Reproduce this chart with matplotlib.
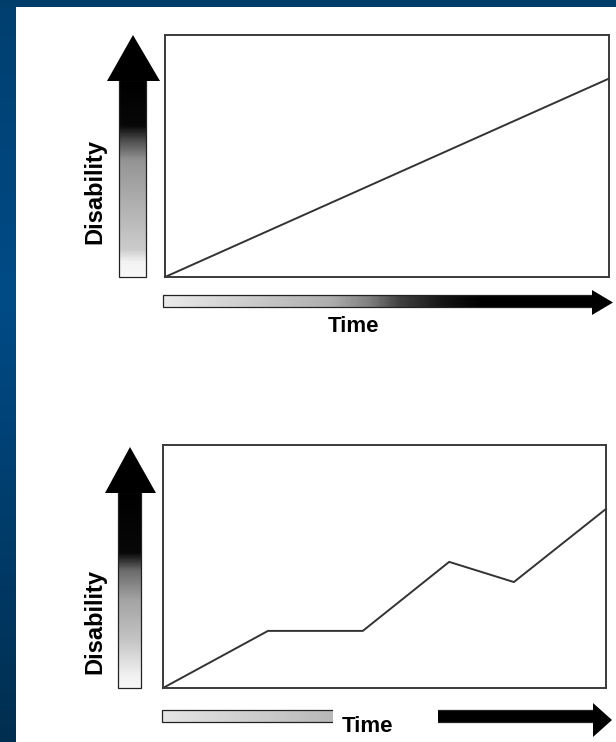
import numpy as np
import matplotlib
matplotlib.use("Agg")
import matplotlib.pyplot as plt
from matplotlib.colors import LinearSegmentedColormap
from matplotlib.patches import Polygon, Rectangle

plt.rcParams["font.family"] = ["Liberation Sans", "DejaVu Sans"]

W, H = 616, 742

# panel 1: steady linear progression
time_linear = [0.0, 1.0]
disability_linear = [0.0, 0.82]

# panel 2: stepwise / relapsing progression
time_steps = [0.0, 0.237, 0.451, 0.646, 0.792, 1.0]
disability_steps = [0.0, 0.235, 0.235, 0.519, 0.436, 0.737]

y_label = "Disability"
x_label = "Time"

fig = plt.figure(figsize=(W / 100, H / 100), dpi=100)
fig.patch.set_facecolor("white")

# overlay in pixel units for the slide decoration and the gradient arrows
deco = fig.add_axes([0, 0, 1, 1])
deco.set_xlim(0, W)
deco.set_ylim(H, 0)
deco.axis("off")

blue = LinearSegmentedColormap.from_list(
    "slide", [(0, "#003f6f"), (0.4, "#004b87"), (1, "#002e50")])
deco.imshow(np.linspace(0, 1, 256)[:, None], cmap=blue, aspect="auto",
            extent=(0, 16, H, 0), zorder=0)
deco.add_patch(Rectangle((0, 0), W, 7, color="#003d6b", lw=0, zorder=0))


def grad_cmap(stops):
    return LinearSegmentedColormap.from_list("g", [(t, str(v)) for t, v in stops])


def arrow(shaft, head, stops, vertical):
    x0, y0, x1, y1 = shaft
    g = np.linspace(0, 1, 300)
    img = g[:, None] if vertical else g[None, :]
    deco.imshow(img, cmap=grad_cmap(stops), vmin=0, vmax=1, aspect="auto",
                extent=(x0, x1, y1, y0), origin="upper" if vertical else "lower",
                zorder=2, interpolation="bilinear")
    deco.add_patch(Rectangle((x0, y0), x1 - x0, y1 - y0, fill=False,
                             ec="#222222", lw=0.9, zorder=3))
    deco.add_patch(Polygon(head, closed=True, color="black", lw=0, zorder=3))


# gradient value runs from tail (0) to head (1)
v_top = [(0, 0.97), (0.076, 0.95), (0.137, 0.8), (0.39, 0.68), (0.594, 0.58),
         (0.695, 0.3), (0.77, 0.03), (1, 0.0)]
v_bot = [(0, 0.97), (0.056, 0.95), (0.245, 0.77), (0.45, 0.64), (0.6, 0.42),
         (0.69, 0.03), (1, 0.0)]
h_top = [(0, 0.92), (0.2, 0.8), (0.39, 0.68), (0.48, 0.5), (0.55, 0.25),
         (0.65, 0.08), (0.74, 0.0), (1, 0.0)]
h_bot = [(0, 0.9), (0.4, 0.72), (0.42, 0.0), (1, 0.0)]

# vertical imshow with origin upper puts g=0 at top, so flip the stops
flip = lambda s: [(1 - t, v) for t, v in reversed(s)]

arrow((119, 80, 146, 277), [(107, 81), (160, 81), (133, 35)], flip(v_top), True)
arrow((118, 492, 141, 688), [(105, 493), (156, 493), (130, 447)], flip(v_bot), True)
arrow((163, 295, 593, 307), [(592, 290), (592, 315), (613, 302.5)], h_top, False)
arrow((162, 710, 594, 722), [(593, 703), (593, 737), (612, 720)], h_bot, False)

# white patch behind the lower "Time" label
deco.add_patch(Rectangle((333, 707), 105, 40, color="white", lw=0, zorder=4))

txt = dict(fontweight="bold", color="black", zorder=5)
deco.text(95, 191, y_label, rotation=90, ha="center", va="center", fontsize=17, **txt)
deco.text(95, 622, y_label, rotation=90, ha="center", va="center", fontsize=17, **txt)
deco.text(354, 326, x_label, ha="center", va="center", fontsize=16, **txt)
deco.text(367, 727, x_label, ha="center", va="center", fontsize=16, **txt)


def panel(box, xs, ys):
    l, t, r, b = box
    ax = fig.add_axes([l / W, 1 - b / H, (r - l) / W, (b - t) / H])
    ax.plot(xs, ys, color="#333333", lw=1.4, clip_on=False)
    ax.set_xlim(0, 1)
    ax.set_ylim(0, 1)
    ax.set_xticks([])
    ax.set_yticks([])
    for s in ax.spines.values():
        s.set_color("#3a3a3a")
        s.set_linewidth(1.4)
    return ax


panel((165, 35, 609, 277), time_linear, disability_linear)
panel((163, 445, 606, 688), time_steps, disability_steps)

fig.savefig("out.png", dpi=100)
